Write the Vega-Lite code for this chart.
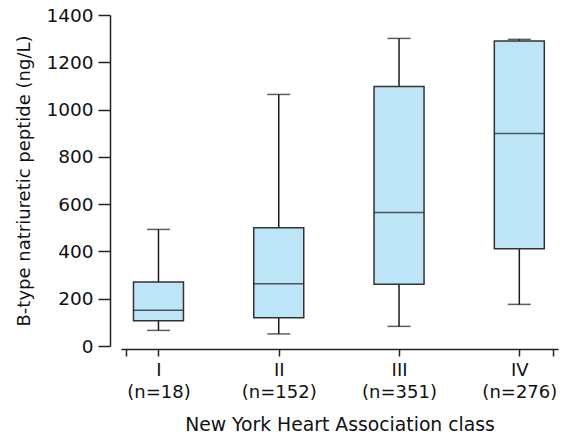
{
  "$schema": "https://vega.github.io/schema/vega-lite/v6.json",
  "width": 437,
  "height": 331,
  "autosize": "none",
  "padding": {"left": 121, "top": 15, "right": 4, "bottom": 93},
  "background": "white",
  "config": {
    "view": {"stroke": null},
    "font": "DejaVu Sans",
    "axis": {"grid": false, "domainColor": "#222", "tickColor": "#222", "labelColor": "#111", "titleColor": "#111", "labelFont": "DejaVu Sans", "titleFont": "DejaVu Sans", "titleFontWeight": "normal", "domainWidth": 1.5, "tickWidth": 1.5}
  },
  "data": {
    "values": [
      {"cls": "I", "n": 18, "k": 1, "min": 66, "q1": 107, "median": 151, "q3": 271, "max": 493},
      {"cls": "II", "n": 152, "k": 2, "min": 51, "q1": 119, "median": 263, "q3": 500, "max": 1064},
      {"cls": "III", "n": 351, "k": 3, "min": 83, "q1": 261, "median": 565, "q3": 1098, "max": 1301},
      {"cls": "IV", "n": 276, "k": 4, "min": 176, "q1": 411, "median": 899, "q3": 1290, "max": 1297}
    ]
  },
  "encoding": {
    "x": {
      "field": "k",
      "type": "quantitative",
      "scale": {"domain": [0.73, 4.28], "nice": false, "zero": false},
      "axis": {
        "title": "New York Heart Association class",
        "titleFontSize": 18.8,
        "titlePadding": 14,
        "values": [0.73, 1, 2, 3, 4, 4.28],
        "labelExpr": "datum.value == 1 ? ['I', '(n=18)'] : datum.value == 2 ? ['II', '(n=152)'] : datum.value == 3 ? ['III', '(n=351)'] : datum.value == 4 ? ['IV', '(n=276)'] : ''",
        "labelFontSize": 18,
        "labelLineHeight": 22,
        "labelPadding": 5,
        "tickSize": 7,
        "offset": 3,
        "labelFlush": false,
        "labelOverlap": false
      }
    }
  },
  "layer": [
    {
      "mark": {"type": "rule", "color": "#1a1a1a", "strokeWidth": 1.5},
      "encoding": {
        "y": {
          "field": "min",
          "type": "quantitative",
          "scale": {"domain": [0, 1400], "nice": false},
          "axis": {
            "title": "B-type natriuretic peptide (ng/L)",
            "titleFontSize": 18,
            "titlePadding": 12,
            "values": [0, 200, 400, 600, 800, 1000, 1200, 1400],
            "format": "d",
            "labelFontSize": 18.5,
            "labelPadding": 5,
            "tickSize": 12,
            "offset": 11
          }
        },
        "y2": {"field": "max"}
      }
    },
    {
      "mark": {"type": "tick", "orient": "horizontal", "color": "#1a1a1a", "size": 23, "thickness": 1.5},
      "encoding": {"y": {"field": "min", "type": "quantitative"}}
    },
    {
      "mark": {"type": "tick", "orient": "horizontal", "color": "#1a1a1a", "size": 23, "thickness": 1.5},
      "encoding": {"y": {"field": "max", "type": "quantitative"}}
    },
    {
      "mark": {"type": "bar", "width": 50, "fill": "#bde5f7", "stroke": "#333333", "strokeWidth": 1.5},
      "encoding": {
        "y": {"field": "q1", "type": "quantitative"},
        "y2": {"field": "q3"}
      }
    },
    {
      "mark": {"type": "tick", "orient": "horizontal", "color": "#1a1a1a", "size": 50, "thickness": 1.5},
      "encoding": {"y": {"field": "median", "type": "quantitative"}}
    }
  ]
}
